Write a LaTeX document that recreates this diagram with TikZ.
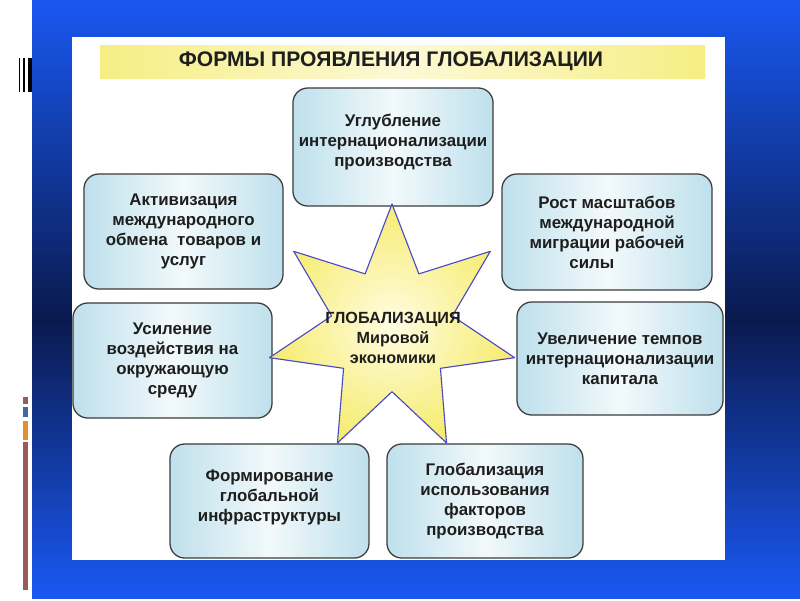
\documentclass[tikz,border=0pt]{standalone}
\usepackage{fontspec}
\setmainfont{Liberation Sans}
\usetikzlibrary{shapes.geometric}

\begin{document}
\begin{tikzpicture}[x=0.025cm,y=-0.025cm,line join=round,
  formbox/.style={draw=boxline,line width=0.9pt,rounded corners=10.5pt,
    left color=boxblue,right color=boxblue,middle color=boxwhite,
    align=center,inner sep=0pt,text=textgray,
    font=\bfseries\fontsize{12}{14.2}\selectfont},
  globstar/.style={star,star points=7,star point ratio=2.03,
    minimum size=6.285cm,inner sep=0pt,draw=starblue,line width=0.8pt,
    inner color=starpale,outer color=staryellow},
  globtext/.style={align=center,text=textgray,
    font=\bfseries\fontsize{11.5}{14.2}\selectfont},
  titletext/.style={text=textgray,font=\bfseries\fontsize{15}{18}\selectfont}]
  \definecolor{bgbright}{RGB}{26,88,242}
  \definecolor{bgdark}{RGB}{10,26,78}
  \definecolor{titleyellow}{RGB}{246,238,132}
  \definecolor{titlepale}{RGB}{252,249,214}
  \definecolor{boxblue}{RGB}{190,224,236}
  \definecolor{boxwhite}{RGB}{242,249,251}
  \definecolor{boxline}{RGB}{60,60,60}
  \definecolor{textgray}{RGB}{30,30,30}
  \definecolor{starblue}{RGB}{74,74,200}
  \definecolor{starpale}{RGB}{255,252,226}
  \definecolor{staryellow}{RGB}{246,236,112}
  \definecolor{markbrown}{RGB}{156,91,91}
  \definecolor{markblue}{RGB}{61,106,165}
  \definecolor{markorange}{RGB}{224,145,46}

  \useasboundingbox (0,0) rectangle (800,600);

  % ---- slide background ----
  \fill[white] (0,0) rectangle (800,600);
  \shade[top color=bgbright,bottom color=bgdark] (32,0) rectangle (800,320);
  \shade[top color=bgdark,bottom color=bgbright] (32,320) rectangle (800,598);

  % marks at the left edge
  \fill[black] (18.5,58) rectangle (20,92);
  \fill[black] (23,58) rectangle (24.5,92);
  \fill[black] (28,58) rectangle (32,92);
  \fill[markbrown] (22.5,397) rectangle (28,404);
  \fill[markblue] (22.5,407) rectangle (28,417);
  \fill[markorange] (22.5,421) rectangle (28,440);
  \fill[markbrown] (22.5,442) rectangle (28,590);

  % ---- white panel and title bar ----
  \fill[white] (72,37) rectangle (725,560);
  \shade[left color=titleyellow,right color=titleyellow,middle color=titlepale]
    (100,45) rectangle (705,78);
  \node[titletext] (title) at (391,61.5) {ФОРМЫ ПРОЯВЛЕНИЯ ГЛОБАЛИЗАЦИИ};

  % ---- forms (boxes round the star) ----
  \node[formbox,minimum width=5cm,minimum height=2.95cm] (deep) at (393,147)
    {Углубление\\интернационализации\\производства\\[-0.35em]};
  \node[formbox,minimum width=4.975cm,minimum height=2.875cm] (trade) at (183.5,231.5)
    {Активизация\\международного\\обмена\ \ товаров и\\услуг};
  \node[formbox,minimum width=5.25cm,minimum height=2.9cm] (labour) at (607,232)
    {Рост масштабов\\международной\\миграции рабочей\\силы\hspace*{1.8em}};
  \node[formbox,minimum width=4.975cm,minimum height=2.875cm] (nature) at (172.5,360.5)
    {Усиление\\воздействия на\\окружающую\\среду};
  \node[formbox,minimum width=5.15cm,minimum height=2.825cm] (capital) at (620,358.5)
    {Увеличение темпов\\интернационализации\\капитала};
  \node[formbox,minimum width=4.975cm,minimum height=2.85cm] (infra) at (269.5,501)
    {Формирование\\глобальной\\инфраструктуры\\[-0.5em]};
  \node[formbox,minimum width=4.9cm,minimum height=2.85cm] (factors) at (485,501)
    {Глобализация\\использования\\факторов\\производства};

  % ---- central star ----
  \node[globstar] (glob) at (392,329.7) {};
  \node[globtext] (globlabel) at (393,338) {ГЛОБАЛИЗАЦИЯ\\Мировой\\экономики};
\end{tikzpicture}
\end{document}
